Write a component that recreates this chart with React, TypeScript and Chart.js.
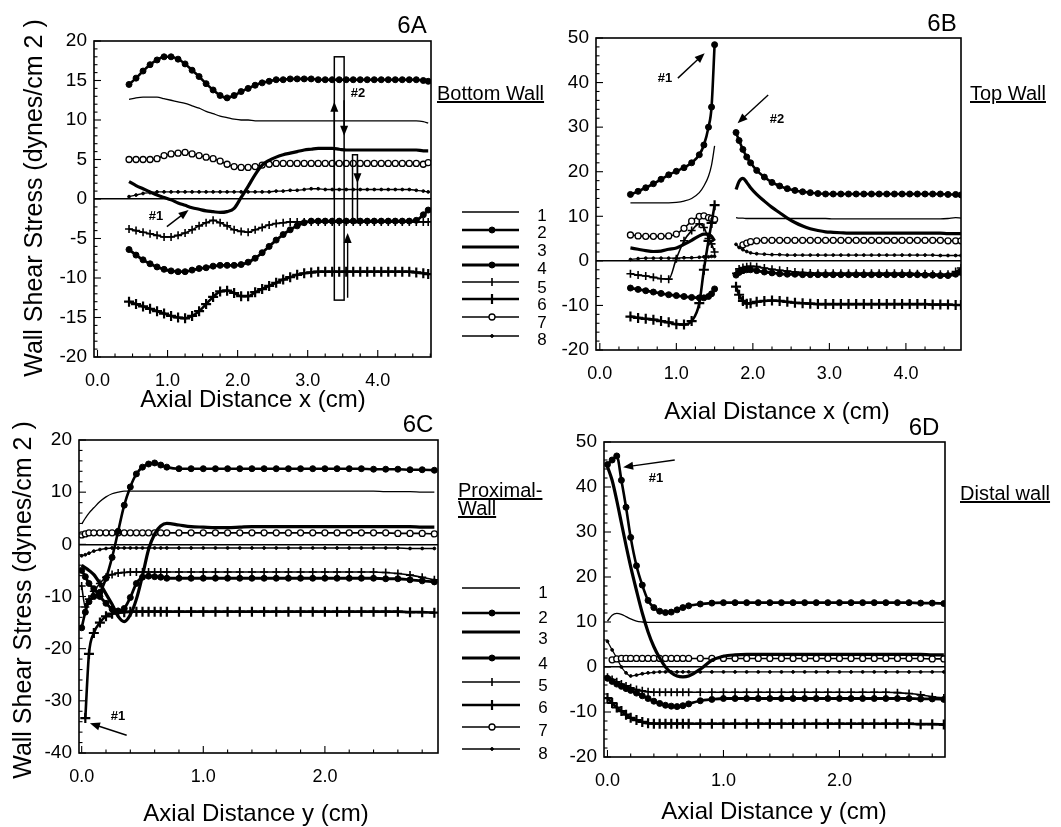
import React, { useEffect, useRef } from 'react';
import { Chart, registerables } from 'chart.js';

Chart.register(...registerables);
Chart.defaults.font.family = "'Liberation Sans', Arial, Helvetica, sans-serif";
Chart.defaults.color = '#000';

// ---------------- DATA ----------------
const SERIES_IDS = ['1', '2', '3', '4', '5', '6', '7', '8'];

// Panel 6A – Bottom Wall, axial distance x (cm)
const xA = [0.45,0.55,0.65,0.75,0.85,0.95,1.05,1.15,1.25,1.35,1.45,1.55,1.65,1.75,1.85,1.95,2.05,2.15,2.25,2.35,2.45,2.55,2.65,2.75,2.85,2.95,3.05,3.15,3.25,3.35,3.45,3.55,3.65,3.75,3.85,3.95,4.05,4.15,4.25,4.35,4.45,4.55,4.65,4.72];
const a1 = [12.6,12.8,12.9,12.9,12.9,12.7,12.5,12.3,12.1,11.8, 11.5,11.1,10.8,10.5,10.3,10.1,10.0,10.0,9.9,9.9, 9.9,9.9,9.9,9.9,9.9,9.9,9.9,9.9,9.9,9.9, 9.9,9.9,9.9,9.9,9.9,9.9,9.9,9.9,9.9,9.9, 9.9,9.9,9.8,9.6];
const a2 = [14.5,15.3,16.2,17.0,17.6,18.0,18.0,17.7,17.1,16.3, 15.5,14.6,13.8,13.1,12.8,13.1,13.6,14.0,14.4,14.7, 14.9,15.1,15.1,15.2,15.2,15.2,15.2,15.1,15.1,15.1, 15.1,15.1,15.1,15.1,15.1,15.1,15.1,15.1,15.1,15.1, 15.1,15.1,15.0,14.9];
const a3 = [2.2,1.7,1.3,0.9,0.5,0.2,-0.1,-0.5,-0.8,-1.1, -1.3,-1.5,-1.6,-1.7,-1.6,-1.2,0.2,1.6,3.1,4.3, 4.9,5.3,5.6,5.8,6.0,6.2,6.3,6.4,6.4,6.4, 6.3,6.2,6.2,6.2,6.2,6.2,6.2,6.2,6.2,6.2, 6.2,6.2,6.1,6.1];
const a4 = [-6.4,-7.1,-7.7,-8.2,-8.6,-8.9,-9.1,-9.2,-9.2,-9.0, -8.8,-8.7,-8.5,-8.4,-8.4,-8.4,-8.3,-8.0,-7.5,-6.8, -6.0,-5.2,-4.5,-3.9,-3.4,-3.0,-2.8,-2.8,-2.8,-2.8, -2.8,-2.8,-2.8,-2.8,-2.8,-2.8,-2.8,-2.8,-2.8,-2.8, -2.8,-2.7,-2.0,-1.4];
const a5 = [-3.8,-4.0,-4.2,-4.4,-4.6,-4.8,-4.8,-4.6,-4.3,-3.9, -3.4,-3.0,-2.7,-3.0,-3.4,-3.9,-4.1,-4.2,-3.9,-3.6, -3.3,-3.1,-3.0,-2.9,-2.9,-2.9,-2.9,-2.9,-2.9,-2.9, -2.9,-2.9,-2.9,-2.9,-2.9,-2.9,-2.9,-2.9,-2.9,-2.9, -2.9,-2.9,-2.9,-2.9];
const a6 = [-13.0,-13.3,-13.6,-13.9,-14.2,-14.5,-14.8,-15.0,-15.1,-14.8, -14.2,-13.3,-12.4,-11.7,-11.6,-11.9,-12.3,-12.3,-11.8,-11.4, -11.0,-10.6,-10.2,-9.9,-9.6,-9.4,-9.3,-9.2,-9.2,-9.2, -9.2,-9.2,-9.2,-9.2,-9.2,-9.2,-9.2,-9.2,-9.2,-9.2, -9.2,-9.3,-9.4,-9.5];
const a7 = [5.0,5.0,5.0,5.0,5.1,5.5,5.7,5.8,5.9,5.7, 5.5,5.3,5.1,4.8,4.4,4.1,4.0,4.0,4.1,4.3, 4.4,4.5,4.5,4.5,4.5,4.5,4.5,4.5,4.5,4.5, 4.5,4.5,4.5,4.5,4.5,4.5,4.5,4.5,4.5,4.5, 4.5,4.5,4.4,4.6];
const a8 = [0.3,0.5,0.7,0.8,0.9,0.9,0.9,0.9,0.9,0.9, 0.9,0.9,0.9,0.9,0.9,0.9,0.9,0.9,0.9,0.9, 0.9,1.0,1.0,1.1,1.1,1.2,1.3,1.3,1.2,1.2, 1.2,1.2,1.2,1.2,1.2,1.2,1.2,1.2,1.2,1.2, 1.2,1.1,1.0,0.9];

// Panel 6B – Top Wall, axial distance x (cm); 1.64 is the gap
const xB = [0.4,0.5,0.6,0.7,0.8,0.9,1.0,1.1,1.2,1.3,1.36,1.42,1.46,1.5,1.64,1.78,1.82,1.87,1.92,1.97,2.05,2.15,2.25,2.35,2.45,2.55,2.65,2.75,2.85,2.95,3.05,3.15,3.25,3.35,3.45,3.55,3.65,3.75,3.85,3.95,4.05,4.15,4.25,4.35,4.45,4.55,4.65,4.72];
const b1 = [13.0,13.0,13.0,13.0,13.0,13.0,13.1,13.4,14.0,15.3, 16.8,19.0,21.5,25.8,null,9.7,9.6,9.6,9.5,9.5, 9.5,9.5,9.5,9.5,9.5,9.5,9.5,9.5,9.5,9.5, 9.4,9.4,9.4,9.4,9.4,9.4,9.4,9.4,9.4,9.4, 9.4,9.4,9.4,9.4,9.4,9.5,9.7,9.6];
const b2 = [14.9,15.6,16.4,17.3,18.3,19.3,20.1,20.9,22.0,23.8, 26.0,30.0,34.5,48.5,null,28.8,27.0,25.0,23.3,22.0, 20.3,18.8,17.6,16.8,16.2,15.8,15.5,15.3,15.1,15.0, 15.0,15.0,15.0,15.0,15.0,15.0,15.0,15.0,15.0,15.0, 15.0,15.0,15.0,15.0,15.0,14.9,14.9,14.8];
const b3 = [2.9,2.6,2.3,2.1,2.2,2.6,2.9,3.7,4.6,5.6, 6.0,6.0,5.5,4.5,null,16.0,17.8,18.5,17.6,16.4, 14.9,13.4,12.0,10.8,9.6,8.6,7.8,7.2,6.8,6.5, 6.4,6.3,6.2,6.2,6.2,6.2,6.2,6.2,6.2,6.2, 6.2,6.2,6.2,6.2,6.2,6.1,6.1,6.1];
const b4 = [-6.1,-6.4,-6.7,-7.0,-7.3,-7.6,-7.8,-8.0,-8.2,-8.3, -8.3,-8.0,-7.4,-6.3,null,-3.2,-2.6,-2.2,-2.0,-2.0, -2.2,-2.5,-2.7,-2.9,-3.0,-3.0,-3.1,-3.1,-3.1,-3.1, -3.1,-3.1,-3.1,-3.1,-3.1,-3.1,-3.1,-3.1,-3.1,-3.1, -3.1,-3.1,-3.2,-3.2,-3.3,-3.3,-3.0,-2.6];
const b5 = [-2.9,-3.2,-3.4,-3.7,-4.0,-4.1,0.5,4.5,6.8,8.3, 7.5,5.0,3.8,2.0,null,-2.8,-1.8,-1.5,-1.3,-1.2, -1.3,-1.6,-1.9,-2.1,-2.3,-2.5,-2.6,-2.7,-2.8,-2.8, -2.8,-2.8,-2.8,-2.8,-2.8,-2.8,-2.8,-2.8,-2.8,-2.8, -2.8,-2.9,-2.9,-3.0,-3.0,-3.0,-2.4,-1.6];
const b6 = [-12.5,-12.8,-13.0,-13.2,-13.5,-13.8,-14.2,-14.3,-13.5,-9.5, -2.0,4.5,8.5,12.5,null,-5.8,-7.6,-9.0,-9.6,-9.5, -9.2,-9.0,-8.9,-9.0,-9.2,-9.4,-9.5,-9.6,-9.7,-9.7, -9.7,-9.7,-9.7,-9.7,-9.7,-9.7,-9.7,-9.7,-9.7,-9.7, -9.7,-9.7,-9.7,-9.8,-9.8,-9.8,-9.9,-9.9];
const b7 = [5.8,5.6,5.5,5.5,5.5,5.6,6.0,7.3,8.9,10.0, 10.1,9.7,9.5,9.3,null,null,null,3.6,4.0,4.3, 4.5,4.6,4.6,4.6,4.6,4.6,4.6,4.6,4.6,4.6, 4.6,4.6,4.6,4.6,4.6,4.6,4.6,4.6,4.6,4.6, 4.6,4.6,4.6,4.6,4.6,4.5,4.5,4.5];
const b8 = [0.3,0.5,0.6,0.6,0.6,0.6,0.6,0.7,0.7,0.8, 0.9,0.9,1.0,1.0,null,3.7,3.0,2.5,2.1,1.8, 1.6,1.5,1.4,1.4,1.3,1.3,1.3,1.3,1.3,1.3, 1.3,1.3,1.3,1.3,1.3,1.3,1.3,1.3,1.3,1.3, 1.3,1.3,1.3,1.3,1.2,1.2,1.2,1.2];

// Panel 6C – Proximal Wall, axial distance y (cm)
const xC = [0,0.03,0.06,0.1,0.15,0.2,0.25,0.3,0.35,0.4,0.45,0.5,0.55,0.6,0.65,0.7,0.8,0.9,1.0,1.1,1.2,1.3,1.4,1.5,1.6,1.7,1.8,1.9,2.0,2.1,2.2,2.3,2.4,2.5,2.6,2.7,2.8,2.9];
const c1 = [3.9,5.0,6.0,7.0,8.2,9.1,9.7,10.0,10.2,10.2, 10.2,10.2,10.2,10.2,10.2,10.2,10.2,10.2,10.2,10.2, 10.2,10.2,10.2,10.2,10.2,10.2,10.2,10.2,10.2,10.2, 10.2,10.2,10.2,10.1,10.1,10.1,10.0,10.0];
const c2 = [-16.0,-13.0,-11.0,-10.0,-9.2,-6.5,-2.5,2.5,7.5,11.0, 13.5,14.8,15.4,15.6,15.2,14.8,14.5,14.5,14.5,14.5, 14.5,14.5,14.5,14.5,14.5,14.5,14.5,14.5,14.5,14.5, 14.5,14.5,14.4,14.4,14.4,14.3,14.3,14.2];
const c3 = [-4.0,-4.5,-5.0,-5.8,-7.5,-9.5,-11.5,-13.8,-14.8,-13.5, -10.5,-6.0,-1.0,2.0,3.5,4.0,3.7,3.4,3.3,3.2, 3.2,3.3,3.4,3.4,3.4,3.4,3.4,3.4,3.4,3.4, 3.4,3.4,3.4,3.4,3.4,3.4,3.3,3.3];
const c4 = [-5.0,-6.2,-7.5,-8.5,-10.0,-11.3,-12.4,-12.8,-12.3,-10.2, -7.5,-6.3,-6.1,-6.2,-6.3,-6.5,-6.5,-6.5,-6.5,-6.5, -6.5,-6.5,-6.5,-6.5,-6.5,-6.5,-6.5,-6.5,-6.5,-6.5, -6.5,-6.5,-6.5,-6.6,-6.6,-6.8,-7.0,-7.2];
const c5 = [-8.0,-12.0,-10.5,-9.0,-7.5,-6.3,-5.8,-5.5,-5.4,-5.3, -5.3,-5.3,-5.3,-5.3,-5.3,-5.3,-5.3,-5.3,-5.3,-5.3, -5.3,-5.3,-5.3,-5.3,-5.3,-5.3,-5.3,-5.3,-5.3,-5.3, -5.3,-5.3,-5.3,-5.4,-5.6,-5.9,-6.3,-6.8];
const c6 = [null,-33.3,-21.0,-17.0,-15.0,-13.8,-13.3,-13.1,-13.0,-12.9, -12.9,-12.9,-12.9,-12.9,-12.9,-12.9,-12.9,-12.9,-12.9,-12.9, -12.9,-12.9,-12.9,-12.9,-12.9,-12.9,-12.9,-12.9,-12.9,-12.9, -12.9,-12.9,-12.9,-12.9,-12.9,-13.0,-13.0,-13.1];
const c7 = [1.8,2.0,2.2,2.2,2.2,2.2,2.2,2.2,2.2,2.2, 2.2,2.2,2.2,2.2,2.2,2.2,2.2,2.2,2.2,2.2, 2.2,2.2,2.2,2.2,2.2,2.2,2.2,2.2,2.2,2.2, 2.2,2.2,2.2,2.2,2.1,2.1,2.1,2.0];
const c8 = [-2.2,-2.0,-1.7,-1.3,-1.0,-0.8,-0.7,-0.7,-0.7,-0.7, -0.7,-0.7,-0.7,-0.7,-0.7,-0.7,-0.7,-0.7,-0.7,-0.7, -0.7,-0.7,-0.7,-0.7,-0.7,-0.7,-0.7,-0.7,-0.7,-0.7, -0.7,-0.7,-0.7,-0.7,-0.7,-0.8,-0.8,-0.8];

// Panel 6D – Distal wall, axial distance y (cm)
const xD = [0,0.04,0.08,0.12,0.16,0.2,0.25,0.3,0.35,0.4,0.45,0.5,0.55,0.6,0.65,0.7,0.8,0.9,1.0,1.1,1.2,1.3,1.4,1.5,1.6,1.7,1.8,1.9,2.0,2.1,2.2,2.3,2.4,2.5,2.6,2.7,2.8,2.9];
const d1 = [10.2,11.5,11.9,11.7,11.2,10.7,10.2,10.0,9.9,9.9, 9.9,9.9,9.9,9.9,9.9,9.9,9.9,9.9,9.9,9.9, 9.9,9.9,9.9,9.9,9.9,9.9,9.9,9.9,9.9,9.9, 9.9,9.9,9.9,9.9,9.9,9.9,9.9,9.9];
const d2 = [45.0,46.0,46.9,41.5,35.5,28.8,22.5,18.2,14.8,13.2, 12.4,12.1,12.2,12.7,13.2,13.6,14.0,14.2,14.3,14.3, 14.3,14.3,14.3,14.3,14.3,14.3,14.3,14.3,14.3,14.3, 14.3,14.3,14.3,14.3,14.3,14.2,14.2,14.1];
const d3 = [44.5,41.5,37.0,32.0,27.0,22.3,17.0,12.0,7.8,4.5, 2.0,0.0,-1.3,-2.0,-2.2,-2.0,-0.5,1.5,2.4,2.7, 2.8,2.8,2.8,2.8,2.8,2.8,2.8,2.8,2.8,2.8, 2.8,2.8,2.8,2.8,2.8,2.8,2.7,2.7];
const d4 = [-2.5,-3.2,-3.8,-4.3,-4.8,-5.2,-5.8,-6.4,-7.0,-7.6, -8.1,-8.5,-8.7,-8.8,-8.6,-8.2,-7.5,-7.2,-7.0,-7.0, -7.0,-7.0,-7.0,-7.0,-7.0,-7.0,-7.0,-7.0,-7.0,-7.0, -7.0,-7.0,-7.0,-7.0,-7.0,-7.1,-7.1,-7.2];
const d5 = [-2.3,-2.8,-3.3,-3.8,-4.2,-4.6,-5.0,-5.3,-5.5,-5.6, -5.6,-5.6,-5.6,-5.6,-5.6,-5.6,-5.6,-5.6,-5.6,-5.6, -5.6,-5.6,-5.6,-5.6,-5.6,-5.6,-5.6,-5.6,-5.6,-5.6, -5.6,-5.6,-5.6,-5.7,-5.9,-6.2,-6.6,-6.9];
const d6 = [-6.9,-8.0,-9.0,-9.8,-10.6,-11.3,-11.8,-12.2,-12.5,-12.6, -12.6,-12.6,-12.6,-12.6,-12.6,-12.6,-12.6,-12.6,-12.6,-12.6, -12.6,-12.6,-12.6,-12.6,-12.6,-12.6,-12.6,-12.6,-12.6,-12.6, -12.6,-12.6,-12.6,-12.6,-12.6,-12.7,-12.7,-12.8];
const d7 = [null,1.6,1.8,1.9,1.9,1.9,1.9,1.9,1.9,1.9, 1.9,1.9,1.9,1.9,1.9,1.9,1.9,1.9,1.9,1.9, 1.9,1.9,1.9,1.9,1.9,1.9,1.9,1.9,1.9,1.9, 1.9,1.9,1.9,1.9,1.9,1.9,1.8,1.8];
const d8 = [5.7,3.8,2.0,0.0,-1.3,-2.0,-1.8,-1.5,-1.3,-1.2, -1.1,-1.1,-1.1,-1.1,-1.1,-1.1,-1.1,-1.1,-1.1,-1.1, -1.1,-1.1,-1.1,-1.1,-1.1,-1.1,-1.1,-1.1,-1.1,-1.1, -1.1,-1.1,-1.1,-1.1,-1.1,-1.1,-1.1,-1.1];

// Tick values
const xTicksAB = [0, 1, 2, 3, 4];
const xTicksCD = [0, 1, 2];

// ---------------- STYLES ----------------
const STYLES = [
  { lw: 1.3, ps: 'circle', r: 0, fill: '#000', pbw: 1 },
  { lw: 2.6, ps: 'circle', r: 3, fill: '#000', pbw: 1 },
  { lw: 3.2, ps: 'circle', r: 0, fill: '#000', pbw: 1 },
  { lw: 2.8, ps: 'circle', r: 3, fill: '#000', pbw: 1 },
  { lw: 1.6, ps: 'cross', r: 4, fill: '#000', pbw: 1.6 },
  { lw: 2.6, ps: 'cross', r: 5, fill: '#000', pbw: 2.2 },
  { lw: 1.6, ps: 'circle', r: 3, fill: '#fff', pbw: 1.3 },
  { lw: 1.3, ps: 'circle', r: 1.4, fill: '#000', pbw: 1 },
];

const W = 1061;
const H = 827;
const YW = 60;
const XH = 40;

function buildDatasets(xs: number[], series: (number | null)[][]) {
  return series.map((ys, i) => {
    const st = STYLES[i];
    return {
      label: SERIES_IDS[i],
      data: xs.map((x, j) => ({ x, y: ys[j] })),
      borderColor: '#000',
      borderWidth: st.lw,
      pointStyle: st.ps,
      pointRadius: st.r,
      pointBackgroundColor: st.fill,
      pointBorderColor: '#000',
      pointBorderWidth: st.pbw,
      cubicInterpolationMode: 'monotone',
      spanGaps: false,
      fill: false,
    };
  });
}

function drawArrow(ctx: CanvasRenderingContext2D, x1: number, y1: number, x2: number, y2: number) {
  const ang = Math.atan2(y2 - y1, x2 - x1);
  const hl = 10, hw = 4;
  ctx.beginPath();
  ctx.moveTo(x1, y1);
  ctx.lineTo(x2 - Math.cos(ang) * hl * 0.8, y2 - Math.sin(ang) * hl * 0.8);
  ctx.stroke();
  ctx.beginPath();
  ctx.moveTo(x2, y2);
  ctx.lineTo(x2 - Math.cos(ang) * hl - Math.sin(ang) * hw, y2 - Math.sin(ang) * hl + Math.cos(ang) * hw);
  ctx.lineTo(x2 - Math.cos(ang) * hl + Math.sin(ang) * hw, y2 - Math.sin(ang) * hl - Math.cos(ang) * hw);
  ctx.closePath();
  ctx.fill();
}

const decorPlugin = {
  id: 'panelDecor',
  afterDatasetsDraw(chart: any) {
    const o = chart.options.plugins.panelDecor;
    if (!o) return;
    const ctx: CanvasRenderingContext2D = chart.ctx;
    const a = chart.chartArea;
    const sx = chart.scales.x;
    const sy = chart.scales.y;
    ctx.save();
    ctx.strokeStyle = '#000';
    ctx.fillStyle = '#000';
    ctx.lineWidth = 1.6;
    ctx.strokeRect(a.left, a.top, a.right - a.left, a.bottom - a.top);

    ctx.lineWidth = 1.1;
    const nY = Math.round((sy.max - sy.min) / o.minorY);
    for (let k = 0; k <= nY; k++) {
      const v = sy.min + k * o.minorY;
      const py = sy.getPixelForValue(v);
      const q = v / o.majorY;
      const major = Math.abs(q - Math.round(q)) < 1e-6;
      ctx.beginPath();
      ctx.moveTo(a.left, py);
      ctx.lineTo(a.left + (major ? 7 : 3.5), py);
      ctx.stroke();
    }
    const k0 = Math.ceil(sx.min / o.minorX - 1e-9);
    const k1 = Math.floor(sx.max / o.minorX + 1e-9);
    for (let k = k0; k <= k1; k++) {
      const v = k * o.minorX;
      const px = sx.getPixelForValue(v);
      const q = v / o.majorX;
      const major = Math.abs(q - Math.round(q)) < 1e-6;
      ctx.beginPath();
      ctx.moveTo(px, a.bottom);
      ctx.lineTo(px, a.bottom - (major ? 7 : 3.5));
      ctx.stroke();
    }

    ctx.lineWidth = 1.5;
    for (const r of o.rects) {
      const x1 = sx.getPixelForValue(r[0]);
      const y1 = sy.getPixelForValue(r[1]);
      const x2 = sx.getPixelForValue(r[2]);
      const y2 = sy.getPixelForValue(r[3]);
      ctx.strokeRect(x1, y1, x2 - x1, y2 - y1);
    }
    ctx.lineWidth = 1.4;
    for (const ar of o.arrows) {
      drawArrow(ctx, sx.getPixelForValue(ar[0]), sy.getPixelForValue(ar[1]), sx.getPixelForValue(ar[2]), sy.getPixelForValue(ar[3]));
    }

    if (o.legend) {
      const L = o.legend;
      chart.data.datasets.forEach((ds: any, i: number) => {
        const y = L.ys[i];
        ctx.lineWidth = ds.borderWidth;
        ctx.beginPath();
        ctx.moveTo(L.x1, y);
        ctx.lineTo(L.x2, y);
        ctx.stroke();
        if (ds.pointRadius > 0) {
          const r = ds.pointRadius;
          ctx.lineWidth = ds.pointBorderWidth;
          if (ds.pointStyle === 'cross') {
            ctx.beginPath();
            ctx.moveTo(L.xm, y - r);
            ctx.lineTo(L.xm, y + r);
            ctx.stroke();
          } else {
            ctx.beginPath();
            ctx.arc(L.xm, y, r, 0, Math.PI * 2);
            ctx.fillStyle = ds.pointBackgroundColor;
            ctx.fill();
            ctx.stroke();
            ctx.fillStyle = '#000';
          }
        }
      });
    }
    ctx.restore();
  },
};

type Panel = {
  xs: number[];
  series: (number | null)[][];
  xMin: number; xMax: number; yMin: number; yMax: number; yStep: number;
  xTicks: number[];
  minorX: number; majorX: number; minorY: number; majorY: number;
  area: { left: number; top: number; right: number; bottom: number };
  arrows: number[][];
  rects: number[][];
  legend?: { x1: number; x2: number; xm: number; ys: number[] };
};

const PANELS: Panel[] = [
  {
    xs: xA, series: [a1, a2, a3, a4, a5, a6, a7, a8],
    xMin: -0.05, xMax: 4.76, yMin: -20, yMax: 20, yStep: 5, xTicks: xTicksAB,
    minorX: 0.25, majorX: 1, minorY: 1, majorY: 5,
    area: { left: 94, top: 41, right: 431, bottom: 357 },
    arrows: [[0.99, -3.5, 1.3, -1.4], [3.38, 0, 3.38, 12.3], [3.52, 12.5, 3.52, 8.0], [3.71, 5.0, 3.71, 2.0], [3.57, -12.5, 3.57, -4.3]],
    rects: [[3.38, 18.0, 3.52, -12.8], [3.64, 5.6, 3.71, -3.0]],
    legend: { x1: 462, x2: 519, xm: 492, ys: [212, 230, 247, 265, 282, 299, 317, 336] },
  },
  {
    xs: xB, series: [b1, b2, b3, b4, b5, b6, b7, b8],
    xMin: -0.05, xMax: 4.72, yMin: -20, yMax: 50, yStep: 10, xTicks: xTicksAB,
    minorX: 0.25, majorX: 1, minorY: 2, majorY: 10,
    area: { left: 596, top: 38, right: 961, bottom: 350 },
    arrows: [[1.02, 41.0, 1.37, 46.6], [2.2, 37.2, 1.8, 30.9]],
    rects: [],
  },
  {
    xs: xC, series: [c1, c2, c3, c4, c5, c6, c7, c8],
    xMin: -0.022, xMax: 2.93, yMin: -40, yMax: 20, yStep: 10, xTicks: xTicksCD,
    minorX: 0.2, majorX: 1, minorY: 2, majorY: 10,
    area: { left: 79, top: 440, right: 438, bottom: 753 },
    arrows: [[0.37, -36.6, 0.068, -34.3]],
    rects: [],
    legend: { x1: 462, x2: 520, xm: 492, ys: [588, 613, 632, 658, 682, 705, 727, 749] },
  },
  {
    xs: xD, series: [d1, d2, d3, d4, d5, d6, d7, d8],
    xMin: -0.03, xMax: 2.91, yMin: -20, yMax: 50, yStep: 10, xTicks: xTicksCD,
    minorX: 0.2, majorX: 1, minorY: 2, majorY: 10,
    area: { left: 604, top: 442, right: 945, bottom: 757 },
    arrows: [[0.58, 46.0, 0.135, 44.4]],
    rects: [],
  },
];

function makeConfig(p: Panel): any {
  return {
    type: 'line',
    data: { datasets: buildDatasets(p.xs, p.series) },
    options: {
      animation: false,
      responsive: false,
      maintainAspectRatio: false,
      devicePixelRatio: 1,
      events: [],
      layout: {
        autoPadding: false,
        padding: { left: p.area.left - YW, top: p.area.top, right: W - p.area.right, bottom: H - p.area.bottom - XH },
      },
      plugins: {
        legend: { display: false },
        tooltip: { enabled: false },
        panelDecor: { minorX: p.minorX, majorX: p.majorX, minorY: p.minorY, majorY: p.majorY, arrows: p.arrows, rects: p.rects, legend: p.legend },
      },
      scales: {
        x: {
          type: 'linear',
          min: p.xMin,
          max: p.xMax,
          afterFit: (s: any) => { s.height = XH; },
          afterBuildTicks: (s: any) => { s.ticks = p.xTicks.map((v) => ({ value: v })); },
          ticks: { callback: (v: any) => Number(v).toFixed(1), padding: 5, maxRotation: 0, autoSkip: false, font: { size: 18 }, color: '#000' },
          grid: { display: false },
          border: { display: false },
        },
        y: {
          type: 'linear',
          min: p.yMin,
          max: p.yMax,
          afterFit: (s: any) => { s.width = YW; },
          ticks: { stepSize: p.yStep, padding: 7, font: { size: 19 }, color: '#000' },
          grid: {
            drawTicks: false,
            color: (c: any) => (c.tick && c.tick.value === 0 ? '#000' : 'rgba(0,0,0,0)'),
            lineWidth: 1.4,
          },
          border: { display: false },
        },
      },
    },
    plugins: [decorPlugin],
  };
}

function PanelChart({ panel }: { panel: Panel }) {
  const ref = useRef<HTMLCanvasElement | null>(null);
  useEffect(() => {
    if (!ref.current) return;
    const chart = new Chart(ref.current, makeConfig(panel));
    return () => chart.destroy();
  }, [panel]);
  return (
    <canvas
      ref={ref}
      width={W}
      height={H}
      style={{ position: 'absolute', left: 0, top: 0, width: W, height: H }}
    />
  );
}

type Txt = { t: string; x: number; y: number; s: number; anchor?: 'c' | 'l'; rot?: boolean; u?: boolean; b?: boolean };

const TEXTS: Txt[] = [
  { t: '6A', x: 412, y: 25, s: 24 },
  { t: '6B', x: 942, y: 23, s: 24 },
  { t: '6C', x: 418, y: 424, s: 24 },
  { t: '6D', x: 924, y: 427, s: 24 },
  { t: 'Wall Shear Stress (dynes/cm 2 )', x: 33, y: 198, s: 25, rot: true },
  { t: 'Wall Shear Stress (dynes/cm 2 )', x: 22, y: 600, s: 25, rot: true },
  { t: 'Axial Distance x (cm)', x: 253, y: 399, s: 24 },
  { t: 'Axial Distance x (cm)', x: 777, y: 411, s: 24 },
  { t: 'Axial Distance y (cm)', x: 256, y: 813, s: 24 },
  { t: 'Axial Distance y (cm)', x: 774, y: 811, s: 24 },
  { t: 'Bottom Wall', x: 437, y: 93, s: 20, anchor: 'l', u: true },
  { t: 'Top Wall', x: 970, y: 93, s: 20, anchor: 'l', u: true },
  { t: 'Proximal-', x: 458, y: 490, s: 20, anchor: 'l', u: true },
  { t: 'Wall', x: 458, y: 508, s: 20, anchor: 'l', u: true },
  { t: 'Distal wall', x: 960, y: 493, s: 20, anchor: 'l', u: true },
  { t: '#1', x: 156, y: 215, s: 13, b: true },
  { t: '#2', x: 358, y: 92, s: 13, b: true },
  { t: '#1', x: 665, y: 77, s: 13, b: true },
  { t: '#2', x: 777, y: 118, s: 13, b: true },
  { t: '#1', x: 118, y: 715, s: 13, b: true },
  { t: '#1', x: 656, y: 477, s: 13, b: true },
];

const LEGEND_NUM_Y_A = [215, 232, 250, 268, 287, 304, 322, 339];
const LEGEND_NUM_Y_C = [592, 617, 638, 663, 685, 707, 730, 753];

export default function App() {
  const labels: Txt[] = [
    ...TEXTS,
    ...SERIES_IDS.map((id, i) => ({ t: id, x: 542, y: LEGEND_NUM_Y_A[i], s: 17 })),
    ...SERIES_IDS.map((id, i) => ({ t: id, x: 543, y: LEGEND_NUM_Y_C[i], s: 17 })),
  ];
  return (
    <div
      style={{
        position: 'absolute',
        left: 0,
        top: 0,
        width: W,
        height: H,
        background: '#fff',
        overflow: 'hidden',
        fontFamily: "'Liberation Sans', Arial, Helvetica, sans-serif",
        color: '#000',
      }}
    >
      {PANELS.map((p, i) => (
        <PanelChart key={i} panel={p} />
      ))}
      {labels.map((l, i) => (
        <div
          key={'t' + i}
          style={{
            position: 'absolute',
            left: l.x,
            top: l.y,
            fontSize: l.s,
            lineHeight: 1,
            whiteSpace: 'nowrap',
            fontWeight: l.b ? 'bold' : 'normal',
            textDecoration: l.u ? 'underline' : 'none',
            transform: l.rot
              ? 'translate(-50%, -50%) rotate(-90deg)'
              : l.anchor === 'l'
              ? 'translate(0, -50%)'
              : 'translate(-50%, -50%)',
          }}
        >
          {l.t}
        </div>
      ))}
    </div>
  );
}
